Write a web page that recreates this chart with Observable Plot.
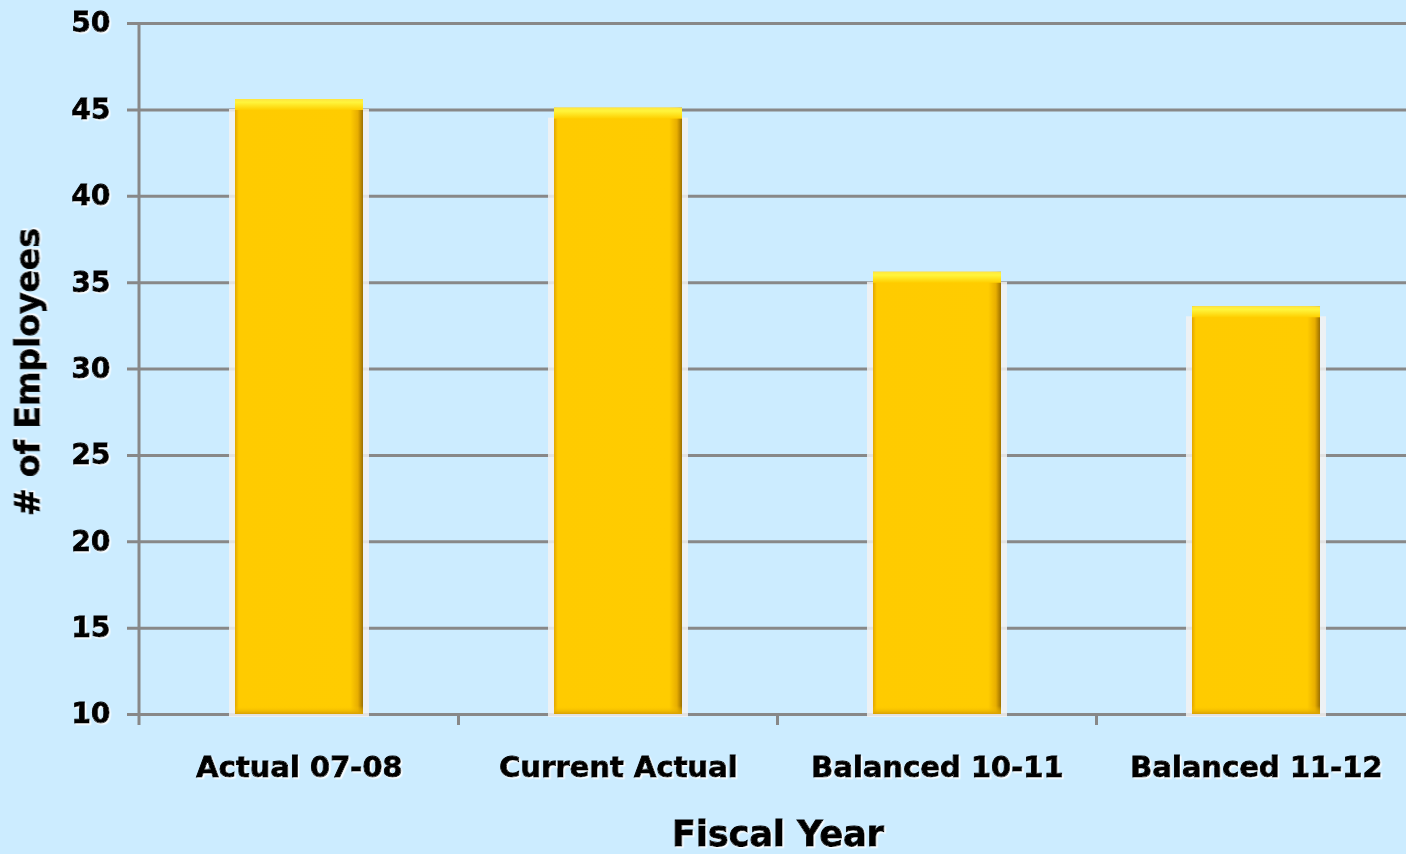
<!DOCTYPE html>
<html><head><meta charset="utf-8">
<script src="https://cdn.jsdelivr.net/npm/d3@7"></script>
<script src="https://cdn.jsdelivr.net/npm/@observablehq/plot@0.6"></script>
<style>
html,body{margin:0;padding:0;background:#CCECFF;overflow:hidden;}
#chart svg{display:block;max-width:none !important;}
</style></head><body><div id="chart"></div>
<script>
const categories = ["Actual 07-08", "Current Actual", "Balanced 10-11", "Balanced 11-12"];
const employees = [45.6, 45.1, 35.6, 33.6];
const yTicks = [10, 15, 20, 25, 30, 35, 40, 45, 50];
const xTitle = "Fiscal Year";
const yTitle = "# of Employees";

const data = categories.map((c, i) => ({category: c, value: employees[i]}));
const font = "'DejaVu Sans', sans-serif";
const base = yTicks[0];

const plot = Plot.plot({
  width: 1416, height: 854,
  marginLeft: 139, marginRight: 0, marginTop: 23, marginBottom: 140,
  style: {background: "#CCECFF", fontFamily: font, color: "black", overflow: "visible", maxWidth: "none"},
  x: {domain: categories, paddingInner: 0.6, paddingOuter: 0.3, label: null},
  y: {domain: [10, 50], label: null},
  marks: [
    Plot.ruleY(yTicks, {stroke: "#888888", strokeWidth: 3, insetLeft: -12}),
    Plot.barY(data, {x: "category", y1: base, y2: "value", insetLeft: -6, insetRight: -6, insetTop: 10, insetBottom: -3, fill: "#F2F2F2", fillOpacity: 0.85}),
    Plot.barY(data, {x: "category", y1: base, y2: "value", fill: "url(#barBody)"}),
    Plot.barY(data, {x: "category", y1: base, y2: base, insetTop: -8, fill: "url(#barBottom)"}),
    Plot.barY(data, {x: "category", y1: "value", y2: "value", insetBottom: -11, fill: "url(#barTop)"}),
    Plot.axisY({ticks: yTicks, tickSize: 0, tickPadding: 29, fontSize: 28, fontWeight: "bold", label: null, fill: "black"}),
    Plot.axisX({tickSize: 0, tickPadding: 42, fontSize: 29, fontWeight: "bold", label: null, fill: "black"}),
    Plot.text([xTitle], {frameAnchor: "bottom", dy: 131, fontSize: 35, fontWeight: "bold", fill: "black"}),
    Plot.text([yTitle], {frameAnchor: "left", textAnchor: "middle", rotate: -90, dx: -111, dy: 3, fontSize: 33, fontWeight: "bold", fill: "black"})
  ]
});

const svg = d3.select(plot);
const defs = svg.insert("defs", ":first-child");
const gb = defs.append("linearGradient").attr("id", "barBody").attr("x1", 0).attr("x2", 1).attr("y1", 0).attr("y2", 0);
[["0%", "#E2A600"], ["3%", "#FFCB00"], ["90%", "#FFCC00"], ["96%", "#E8AE00"], ["100%", "#9C7000"]]
  .forEach(([o, c]) => gb.append("stop").attr("offset", o).attr("stop-color", c));
const gt = defs.append("linearGradient").attr("id", "barTop").attr("x1", 0).attr("x2", 0).attr("y1", 0).attr("y2", 1);
[["0%", "#FFE640"], ["30%", "#FFF53C"], ["100%", "#FFCF00"]]
  .forEach(([o, c]) => gt.append("stop").attr("offset", o).attr("stop-color", c));
const gbo = defs.append("linearGradient").attr("id", "barBottom").attr("x1", 0).attr("x2", 0).attr("y1", 0).attr("y2", 1);
[["0%", "#FFCC00", 0], ["100%", "#D9A000", 1]]
  .forEach(([o, c, a]) => gbo.append("stop").attr("offset", o).attr("stop-color", c).attr("stop-opacity", a));
const f = defs.append("filter").attr("id", "tshadow").attr("x", "-10%").attr("y", "-10%").attr("width", "130%").attr("height", "140%");
f.append("feDropShadow").attr("dx", 1.5).attr("dy", 1.5).attr("stdDeviation", 0.6).attr("flood-color", "#ffffff").attr("flood-opacity", 0.9);
svg.selectAll("text").attr("filter", "url(#tshadow)").attr("stroke", "black").attr("stroke-width", 0.9).attr("paint-order", "fill");

const xs = plot.scale("x");
const ys = plot.scale("y");
const y0 = ys.apply(base);
const yTop = ys.apply(yTicks[yTicks.length - 1]);
const left = xs.range[0];
const g = svg.append("g").attr("stroke", "#888888").attr("stroke-width", 3);
g.append("line").attr("x1", left).attr("x2", left).attr("y1", yTop - 1).attr("y2", y0 + 11);
for (let i = 0; i < categories.length - 1; i++) {
  const bx = (xs.apply(categories[i]) + xs.bandwidth + xs.apply(categories[i + 1])) / 2;
  g.append("line").attr("x1", bx).attr("x2", bx).attr("y1", y0).attr("y2", y0 + 11);
}
document.getElementById("chart").appendChild(plot);
</script></body></html>
